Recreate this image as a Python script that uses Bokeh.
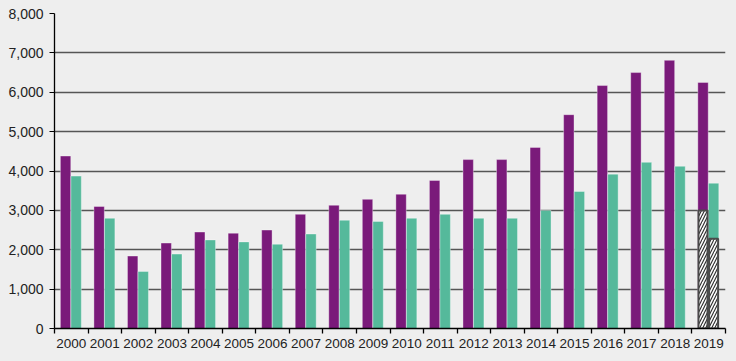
import numpy as np
from bokeh.plotting import figure
from bokeh.models import ColumnDataSource, FixedTicker, NumeralTickFormatter, Range1d
from bokeh.transform import dodge
from bokeh.embed import file_html
from bokeh.resources import INLINE

years = ["2000", "2001", "2002", "2003", "2004", "2005", "2006", "2007", "2008", "2009",
         "2010", "2011", "2012", "2013", "2014", "2015", "2016", "2017", "2018", "2019"]
series_a = [4380, 3100, 1840, 2170, 2450, 2420, 2500, 2900, 3130, 3280,
            3410, 3760, 4290, 4290, 4600, 5430, 6170, 6500, 6810, 6250]
series_b = [3870, 2800, 1450, 1890, 2250, 2200, 2140, 2400, 2750, 2720,
            2800, 2900, 2800, 2800, 3000, 3480, 3920, 4220, 4120, 3690]
# partial (hatched) portion of the last year
partial_year = ["2019"]
partial_a = [3000]
partial_b = [2280]
y_ticks = [0, 1000, 2000, 3000, 4000, 5000, 6000, 7000, 8000]

PURPLE = "#7a1a7a"
GREEN = "#55b99b"
BG = "#eeeeee"

idx = np.arange(len(years))
src = ColumnDataSource(dict(idx=idx, a=series_a, b=series_b))
pidx = [years.index(y) for y in partial_year]
psrc = ColumnDataSource(dict(idx=pidx, a=partial_a, b=partial_b))

p = figure(frame_width=671, frame_height=315, output_backend="svg", toolbar_location=None,
           x_range=Range1d(0, len(years)), y_range=Range1d(0, 8000),
           min_border_left=54, min_border_right=8, min_border_top=13, min_border_bottom=28,
           background_fill_color=BG, border_fill_color=BG, outline_line_color=None)

W = 0.31
p.vbar(x=dodge("idx", 0.33), top="a", bottom=0, width=W, source=src,
       fill_color=PURPLE, line_color="white", line_alpha=0.35, line_width=1)
p.vbar(x=dodge("idx", 0.645), top="b", bottom=0, width=W, source=src,
       fill_color=GREEN, line_color="white", line_alpha=0.35, line_width=1)

p.vbar(x=dodge("idx", 0.33), top="a", bottom=0, width=W - 0.04, source=psrc,
       fill_color="white", line_color="#4a4a4a", line_width=2,
       hatch_pattern="/", hatch_color="#333333", hatch_scale=6, hatch_weight=1.2)
p.vbar(x=dodge("idx", 0.645), top="b", bottom=0, width=W - 0.04, source=psrc,
       fill_color="white", line_color="#4a4a4a", line_width=2,
       hatch_pattern="/", hatch_color="#333333", hatch_scale=6, hatch_weight=1.2)

# axes
p.xgrid.grid_line_color = None
p.ygrid.grid_line_color = "#555555"
p.ygrid.grid_line_width = 1.3
p.ygrid.ticker = FixedTicker(ticks=y_ticks[1:])

p.yaxis.ticker = FixedTicker(ticks=y_ticks)
p.yaxis.formatter = NumeralTickFormatter(format="0,0")
p.yaxis.axis_line_color = "black"
p.yaxis.axis_line_width = 1.3
p.yaxis.major_tick_out = 5
p.yaxis.major_tick_in = 0
p.yaxis.minor_tick_line_color = None
p.yaxis.major_tick_line_color = "black"
p.yaxis.major_label_standoff = 6
p.yaxis.major_label_text_font = "Liberation Sans"
p.yaxis.major_label_text_font_size = "14px"
p.yaxis.major_label_text_color = "#222222"

centers = [i + 0.5 for i in idx]
bounds = list(range(len(years) + 1))
p.xaxis.ticker = FixedTicker(ticks=centers, minor_ticks=bounds)
p.xaxis.major_label_overrides = {c: y for c, y in zip(centers, years)}
p.xaxis.major_tick_line_color = None
p.xaxis.major_tick_out = 5
p.xaxis.minor_tick_out = 5
p.xaxis.minor_tick_in = 0
p.xaxis.minor_tick_line_color = "black"
p.xaxis.minor_tick_line_width = 1.3
p.xaxis.axis_line_color = "black"
p.xaxis.axis_line_width = 1.3
p.xaxis.major_label_standoff = 5
p.xaxis.major_label_text_font = "Liberation Sans"
p.xaxis.major_label_text_font_size = "13.5px"
p.xaxis.major_label_text_color = "#222222"

html = file_html(p, INLINE)
html = html.replace("<head>", "<head><style>body{background:#eeeeee;}</style>", 1)
open("out.html", "w").write(html)
